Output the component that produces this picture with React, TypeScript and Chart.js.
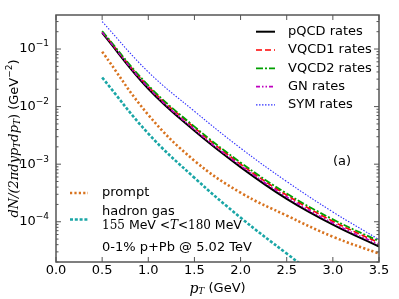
import React, { useEffect, useRef } from "react";
import { Chart, registerables } from "chart.js";

Chart.register(...registerables);

const pT = [0.5, 1.0, 1.5, 2.0, 2.5, 3.0, 3.5];
const pqcd = [0.19, 0.0204, 0.0038, 8.9e-4, 2.5e-4, 8.9e-5, 3.7e-5];
const vqcd1 = [0.2, 0.0224, 0.0043, 1.0e-3, 2.9e-4, 1.02e-4, 4.3e-5];
const vqcd2 = [0.204, 0.0234, 0.0045, 1.07e-3, 3.1e-4, 1.1e-4, 4.6e-5];
const gn = [0.195, 0.0214, 0.004, 9.5e-4, 2.7e-4, 9.5e-5, 4.0e-5];
const sym = [0.3, 0.04, 0.0083, 1.9e-3, 5.0e-4, 1.48e-4, 4.9e-5];
const prompt = [0.09, 0.0072, 0.00115, 3.2e-4, 1.28e-4, 5.5e-5, 2.8e-5];
const hadronPt = [0.5, 1.0, 1.5, 2.0, 2.5, 3.0];
const hadronGas = [0.032, 0.0034, 5.8e-4, 1.18e-4, 2.8e-5, 7e-6];

const xTicks = [0.0, 0.5, 1.0, 1.5, 2.0, 2.5, 3.0, 3.5];
const yTickExps = [-1, -2, -3, -4];
const legendLabels = ["pQCD rates", "VQCD1 rates", "VQCD2 rates", "GN rates", "SYM rates"];

const SANS = "'DejaVu Sans', sans-serif";
const SERIF = "'DejaVu Serif', serif";

type Run = { t: string; f: string; dy?: number };

function drawRuns(ctx: CanvasRenderingContext2D, x: number, y: number, runs: Run[], align: "left" | "center" | "right") {
  let total = 0;
  for (const r of runs) {
    ctx.font = r.f;
    total += ctx.measureText(r.t).width;
  }
  let cx = align === "left" ? x : align === "center" ? x - total / 2 : x - total;
  ctx.textAlign = "left";
  ctx.textBaseline = "middle";
  for (const r of runs) {
    ctx.font = r.f;
    ctx.fillText(r.t, cx, y + (r.dy || 0));
    cx += ctx.measureText(r.t).width;
  }
}

const styles = [
  { c: "#000000", w: 2, d: [] as number[] },
  { c: "#ff0000", w: 1.6, d: [6, 3] },
  { c: "#00a000", w: 1.8, d: [7, 2, 2, 2] },
  { c: "#bf00bf", w: 1.6, d: [4, 2, 1.5, 2, 1.5, 2] },
  { c: "#3030ff", w: 1.1, d: [1.5, 1.5] },
];
const promptStyle = { c: "#d8731f", w: 2.6, d: [2.2, 2.2] };
const hadronStyle = { c: "#1aa6a6", w: 2.6, d: [3, 1.8] };

const decor = {
  id: "decor",
  afterDatasetsDraw(chart: any) {
    const ctx: CanvasRenderingContext2D = chart.ctx;
    const a = chart.chartArea;
    const xs = chart.scales.x;
    const ys = chart.scales.y;
    ctx.save();
    ctx.strokeStyle = "#555555";
    ctx.lineWidth = 1.5;
    ctx.setLineDash([]);
    ctx.strokeRect(a.left, a.top, a.right - a.left, a.bottom - a.top);
    ctx.lineWidth = 1;
    ctx.fillStyle = "#000";
    for (const v of xTicks) {
      const px = xs.getPixelForValue(v);
      ctx.beginPath();
      ctx.moveTo(px, a.bottom);
      ctx.lineTo(px, a.bottom - 5);
      ctx.moveTo(px, a.top);
      ctx.lineTo(px, a.top + 5);
      ctx.stroke();
      drawRuns(ctx, px, a.bottom + 9, [{ t: v.toFixed(1), f: `13px ${SANS}` }], "center");
    }
    for (let k = -6; k <= 0; k++) {
      for (let m = 1; m <= 9; m++) {
        const v = m * Math.pow(10, k);
        if (v < ys.min || v > ys.max) continue;
        const py = ys.getPixelForValue(v);
        const len = m === 1 ? 5 : 2.5;
        ctx.beginPath();
        ctx.moveTo(a.left, py);
        ctx.lineTo(a.left + len, py);
        ctx.moveTo(a.right, py);
        ctx.lineTo(a.right - len, py);
        ctx.stroke();
      }
    }
    for (const e of yTickExps) {
      const py = ys.getPixelForValue(Math.pow(10, e));
      drawRuns(ctx, a.left - 7, py, [
        { t: "10", f: `13px ${SANS}` },
        { t: "\u2212" + String(-e), f: `9px ${SANS}`, dy: -5 },
      ], "right");
    }
    drawRuns(ctx, (a.left + a.right) / 2, a.bottom + 27, [
      { t: "p", f: `italic 14px ${SERIF}` },
      { t: "T", f: `italic 9px ${SERIF}`, dy: 3 },
      { t: " (GeV)", f: `13px ${SANS}` },
    ], "center");
    ctx.save();
    ctx.translate(15, (a.top + a.bottom) / 2);
    ctx.rotate(-Math.PI / 2);
    drawRuns(ctx, 0, 0, [
      { t: "dN/(2\u03c0dyp", f: `italic 13px ${SERIF}` },
      { t: "T", f: `italic 9px ${SERIF}`, dy: 3 },
      { t: "dp", f: `italic 13px ${SERIF}` },
      { t: "T", f: `italic 9px ${SERIF}`, dy: 3 },
      { t: ")", f: `13px ${SERIF}` },
      { t: " (GeV", f: `13px ${SANS}` },
      { t: "\u22122", f: `9px ${SANS}`, dy: -5 },
      { t: ")", f: `13px ${SANS}` },
    ], "center");
    ctx.restore();
    const lx0 = 256, lx1 = 275, tx = 288;
    legendLabels.forEach((lab, i) => {
      const y = 31.7 + i * 18.3;
      const s = styles[i];
      ctx.strokeStyle = s.c;
      ctx.lineWidth = s.w;
      ctx.setLineDash(s.d);
      ctx.beginPath();
      ctx.moveTo(lx0, y);
      ctx.lineTo(lx1, y);
      ctx.stroke();
      ctx.fillStyle = "#000";
      drawRuns(ctx, tx, y, [{ t: lab, f: `13px ${SANS}` }], "left");
    });
    const drawSample = (s: any, y: number) => {
      ctx.strokeStyle = s.c;
      ctx.lineWidth = s.w;
      ctx.setLineDash(s.d);
      ctx.beginPath();
      ctx.moveTo(70, y);
      ctx.lineTo(88, y);
      ctx.stroke();
    };
    drawSample(promptStyle, 193);
    drawSample(hadronStyle, 219.5);
    ctx.setLineDash([]);
    ctx.fillStyle = "#000";
    drawRuns(ctx, 102, 193, [{ t: "prompt", f: `13px ${SANS}` }], "left");
    drawRuns(ctx, 102, 212, [{ t: "hadron gas", f: `13px ${SANS}` }], "left");
    drawRuns(ctx, 102, 226, [
      { t: "155", f: `12px ${SERIF}` },
      { t: " MeV ", f: `12.5px ${SANS}` },
      { t: "<", f: `12px ${SERIF}` },
      { t: "T", f: `italic 12px ${SERIF}` },
      { t: "<", f: `12px ${SERIF}` },
      { t: "180", f: `12px ${SERIF}` },
      { t: " MeV", f: `12.5px ${SANS}` },
    ], "left");
    drawRuns(ctx, 102, 248, [{ t: "0-1% p+Pb @ 5.02 TeV", f: `13px ${SANS}` }], "left");
    drawRuns(ctx, 333, 162, [{ t: "(a)", f: `13px ${SANS}` }], "left");
    ctx.restore();
  },
};

function mk(label: string, xsArr: number[], ysArr: number[], s: { c: string; w: number; d: number[] }) {
  return {
    label,
    data: xsArr.map((x, i) => ({ x, y: ysArr[i] })),
    borderColor: s.c,
    borderWidth: s.w,
    borderDash: s.d,
    pointRadius: 0,
    fill: false,
    tension: 0.4,
  };
}

export default function App() {
  const ref = useRef<HTMLCanvasElement>(null);
  useEffect(() => {
    if (!ref.current) return;
    const chart = new Chart(ref.current, {
      type: "line",
      data: {
        datasets: [
          mk("prompt", pT, prompt, promptStyle),
          mk("hadron gas", hadronPt, hadronGas, hadronStyle),
          mk("SYM rates", pT, sym, styles[4]),
          mk("GN rates", pT, gn, styles[3]),
          mk("VQCD2 rates", pT, vqcd2, styles[2]),
          mk("VQCD1 rates", pT, vqcd1, styles[1]),
          mk("pQCD rates", pT, pqcd, styles[0]),
        ],
      },
      options: {
        animation: false,
        responsive: false,
        layout: { padding: { left: 56, right: 20, top: 15, bottom: 37 } },
        plugins: { legend: { display: false }, tooltip: { enabled: false } },
        scales: {
          x: { type: "linear", min: 0, max: 3.5, display: false },
          y: { type: "logarithmic", min: 2e-5, max: 0.39, display: false },
        },
      },
      plugins: [decor],
    });
    return () => chart.destroy();
  }, []);
  return (
    <div style={{ position: "fixed", left: 0, top: 0, width: 399, height: 299, background: "#fff" }}>
      <canvas ref={ref} width={399} height={299} style={{ width: 399, height: 299 }} />
    </div>
  );
}
